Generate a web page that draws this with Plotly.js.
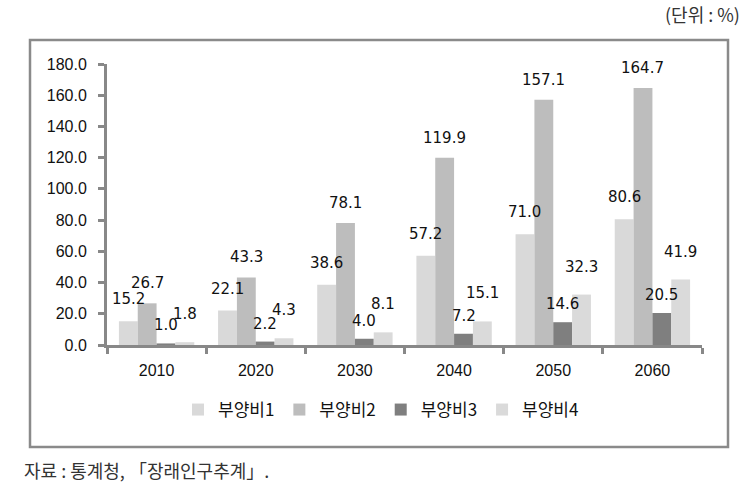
<!DOCTYPE html>
<html>
<head>
<meta charset="utf-8">
<script src="https://cdn.plot.ly/plotly-3.0.1.min.js"></script>
<style>html,body{margin:0;padding:0;background:#fff;}#chart{width:754px;height:501px;}</style>
</head>
<body>
<div id="chart"></div>
<script>
const years = ['2010', '2020', '2030', '2040', '2050', '2060'];
const seriesNames = ['부양비1', '부양비2', '부양비3', '부양비4'];
const ratio1 = [15.2, 22.1, 38.6, 57.2, 71.0, 80.6];
const ratio2 = [26.7, 43.3, 78.1, 119.9, 157.1, 164.7];
const ratio3 = [1.0, 2.2, 4.0, 7.2, 14.6, 20.5];
const ratio4 = [1.8, 4.3, 8.1, 15.1, 32.3, 41.9];
const yTicks = [0, 20, 40, 60, 80, 100, 120, 140, 160, 180];

const seriesValues = [ratio1, ratio2, ratio3, ratio4];
const colors = ['#d9d9d9', '#bdbdbd', '#7f7f7f', '#dadada'];

// plot geometry (px)
const W = 754, H = 501;
const mL = 107, mR = 52, mT = 64, mB = 156;
const plotW = W - mL - mR, plotH = H - mT - mB;
const catW = plotW / years.length;
const bargap = 0.24;
const barW = catW * (1 - bargap) / 4;
const labelLift = [22, 20, 18, 28];

const traces = seriesValues.map((vals, i) => ({
  type: 'bar',
  name: seriesNames[i],
  x: years,
  y: vals,
  marker: { color: colors[i], line: { width: 0 } },
  hoverinfo: 'skip'
}));

const annotations = [];
seriesValues.forEach((vals, i) => {
  const off = (i - 1.5) * barW;
  vals.forEach((v, j) => {
    annotations.push({
      x: j, y: v, xref: 'x', yref: 'y',
      text: v.toFixed(1), showarrow: false,
      xshift: off, yshift: labelLift[i],
      yanchor: 'middle', xanchor: 'center',
      font: { family: 'DejaVu Sans', size: 15, color: '#111' }
    });
  });
});
annotations.push({
  xref: 'paper', yref: 'paper',
  x: (742 - mL) / plotW, y: (H - mB - 14) / plotH,
  xanchor: 'right', yanchor: 'middle', showarrow: false,
  text: '(단위 : %)',
  font: { family: 'Noto Sans CJK KR', size: 18, color: '#333' }
});
annotations.push({
  xref: 'paper', yref: 'paper',
  x: (22 - mL) / plotW, y: (H - mB - 470) / plotH,
  xanchor: 'left', yanchor: 'middle', showarrow: false,
  text: '자료 : 통계청, 「장래인구추계」.',
  font: { family: 'Noto Sans CJK KR', size: 18, color: '#333' }
});

const layout = {
  width: W, height: H,
  margin: { l: mL, r: mR, t: mT, b: mB, pad: 0 },
  paper_bgcolor: '#fff', plot_bgcolor: '#fff',
  barmode: 'group', bargap: bargap, bargroupgap: 0,
  xaxis: {
    type: 'category', showgrid: false, zeroline: false,
    range: [-0.5, years.length - 0.5],
    showline: true, linecolor: '#888', linewidth: 3,
    ticks: 'outside', tickson: 'boundaries', ticklen: 6, tickwidth: 3, tickcolor: '#888',
    ticklabelstandoff: 9,
    tickfont: { family: 'Liberation Sans', size: 16, color: '#111' }
  },
  yaxis: {
    range: [0, 180], tickvals: yTicks, ticktext: yTicks.map(v => v.toFixed(1)),
    showgrid: false, zeroline: false,
    showline: true, linecolor: '#888', linewidth: 3,
    ticks: 'outside', ticklen: 6, tickwidth: 3, tickcolor: '#888',
    ticklabelstandoff: 8,
    tickfont: { family: 'Liberation Sans', size: 16, color: '#111' }
  },
  legend: {
    orientation: 'h', x: (381 - mL) / plotW, xanchor: 'center',
    y: (H - mB - 410) / plotH, yanchor: 'middle',
    font: { family: 'Noto Sans CJK KR', size: 17, color: '#111' },
    itemwidth: 30, traceorder: 'normal'
  },
  shapes: [{
    type: 'rect', xref: 'paper', yref: 'paper',
    x0: (30 - mL) / plotW, x1: (728 - mL) / plotW,
    y0: (H - mB - 447) / plotH, y1: (H - mB - 40) / plotH,
    line: { color: '#8a8a8a', width: 2.5 }, fillcolor: 'rgba(0,0,0,0)', layer: 'below'
  }],
  annotations: annotations
};

Plotly.newPlot('chart', traces, layout, { displayModeBar: false, staticPlot: true });
</script>
</body>
</html>
